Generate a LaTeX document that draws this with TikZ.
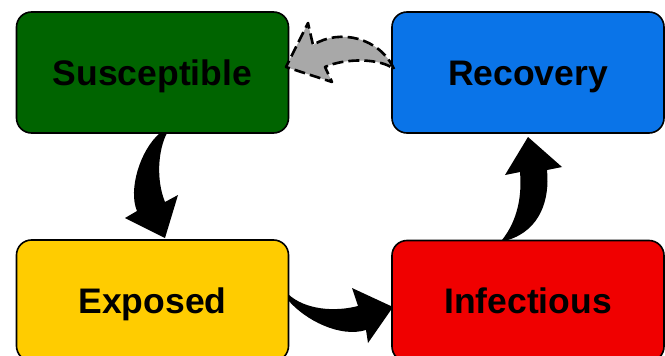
\documentclass[tikz,border=0pt]{standalone}
\usepackage{fontspec}
\setmainfont{Liberation Sans}
\definecolor{sgreen}{RGB}{0,100,0}
\definecolor{rblue}{RGB}{10,116,232}
\definecolor{eyellow}{RGB}{255,204,0}
\definecolor{ired}{RGB}{240,0,0}
\definecolor{agrey}{RGB}{168,168,168}
\begin{document}
\begin{tikzpicture}[x=1pt,y=-1pt,
  statebox/.style={draw=black,line width=1.6pt,rounded corners=15pt,
    minimum width=272pt,minimum height=121pt,inner sep=0pt,
    text height=25.4pt,text depth=0pt,
    font=\fontsize{35.5}{40}\selectfont\bfseries,text=black},
  blockarrow/.style={fill=black,draw=none},
  dasharrow/.style={fill=agrey,draw=black,line width=2.6pt,dash pattern=on 11pt off 5pt,line join=round}]
\useasboundingbox (0,0) rectangle (665,356);
\clip (0,0) rectangle (665,356);
\node[statebox,fill=sgreen] (S) at (152.5,72.5) {Susceptible};
\node[statebox,fill=rblue] (R) at (528,72.5) {Recovery};
\node[statebox,fill=eyellow] (E) at (152.5,300.5) {Exposed};
\node[statebox,fill=ired] (I) at (528,301) {Infectious};
% Susceptible -> Exposed
\fill[blockarrow] (160,133) .. controls (140,150) and (128,190) .. (137,211)
  -- (125,218) -- (165,238) -- (178,195) -- (165,202)
  .. controls (156,180) and (158,150) .. (167,133) -- cycle;
% Exposed -> Infectious
\fill[blockarrow] (288,294) .. controls (305,310) and (335,312) .. (358,306)
  -- (352,288) -- (393,307) -- (368,343) -- (366,330)
  .. controls (340,338) and (305,320) .. (288,300) -- cycle;
% Infectious -> Recovery
\fill[blockarrow] (502,240) .. controls (518,220) and (522,195) .. (520,172)
  -- (505,175) -- (528,137) -- (562,167) -- (547,170)
  .. controls (550,200) and (540,230) .. (508,240) -- cycle;
% Recovery -> Susceptible (dashed, grey)
\draw[dasharrow] (394,69) .. controls (380,38) and (340,28) .. (313,45)
  -- (308,23) -- (286,67) -- (332,82) -- (325,67)
  .. controls (345,58) and (380,58) .. (394,69) -- cycle;
\end{tikzpicture}
\end{document}
